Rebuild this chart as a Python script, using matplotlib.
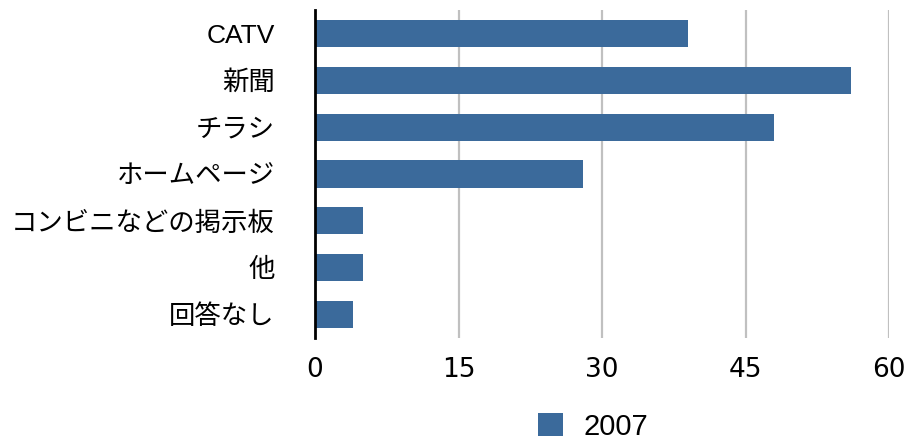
import matplotlib
matplotlib.use("Agg")
import matplotlib.pyplot as plt
from matplotlib.patches import Patch

categories = ["CATV", "新聞", "チラシ", "ホームページ", "コンビニなどの掲示板", "他", "回答なし"]
values_2007 = [39, 56, 48, 28, 5, 5, 4]
x_ticks = [0, 15, 30, 45, 60]
series_name = "2007"

bar_color = "#3b6a9b"
lat_cjk = ["Liberation Sans", "Noto Sans CJK JP"]

fig = plt.figure(figsize=(9.22, 4.41), dpi=100)
ax = fig.add_axes([315/922, 1-338/441, (889-315)/922, (338-10)/441])

ypos = list(range(len(categories)))
ax.barh(ypos, values_2007, height=0.58, color=bar_color, zorder=3)
ax.set_ylim(len(categories)-0.5, -0.5)
ax.set_xlim(0, 60)
ax.set_xticks(x_ticks)
ax.set_xticklabels([str(t) for t in x_ticks], family=["DejaVu Sans"], fontsize=19)
ax.set_yticks(ypos)
ax.set_yticklabels(categories, family=lat_cjk, fontsize=19)
ax.tick_params(axis="both", length=0)
ax.tick_params(axis="x", pad=14)
ax.tick_params(axis="y", pad=29)

for s in ["top", "right", "bottom"]:
    ax.spines[s].set_visible(False)
ax.spines["left"].set_linewidth(2)
ax.spines["left"].set_color("black")
ax.spines["left"].set_zorder(4)

for t in x_ticks[1:]:
    ax.axvline(t, color="#c0c0c0", linewidth=1.6, zorder=1)

handles = [Patch(facecolor=bar_color, edgecolor="none", label=series_name)]
leg = ax.legend(handles=handles, loc="center", bbox_to_anchor=(0.484, -0.27),
                frameon=False, prop={"family": lat_cjk, "size": 21},
                handlelength=0.85, handleheight=0.85, handletextpad=0.7,
                borderpad=0.2)

fig.savefig("out.png", dpi=100, facecolor="white")
